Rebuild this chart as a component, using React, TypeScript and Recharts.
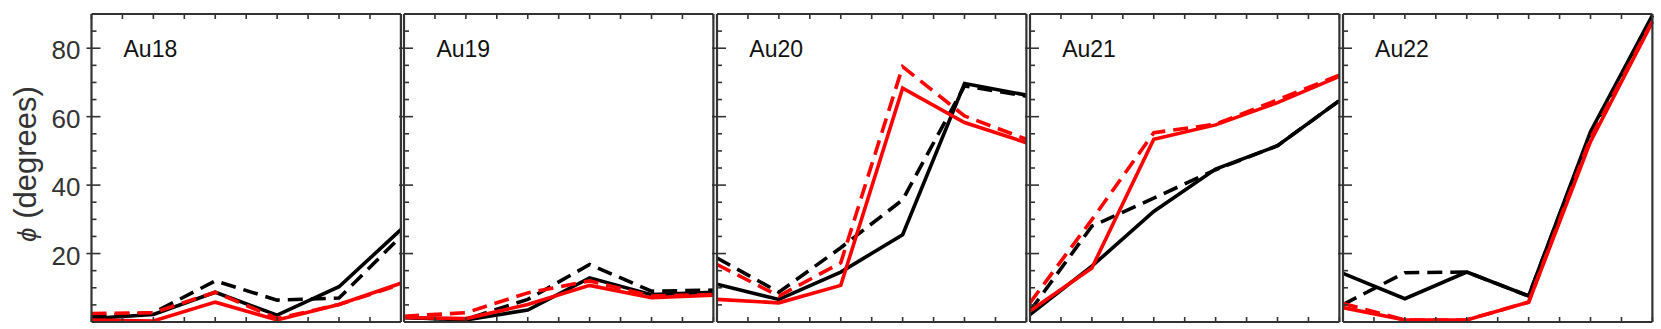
import { LineChart, Line, XAxis, YAxis } from "recharts";

const xs = [0, 2, 4, 6, 8, 10];
const xTicks = [0, 1, 2, 3, 4, 5, 6, 7, 8, 9, 10];
const yTicks = [5, 10, 15, 20, 25, 30, 35, 40, 45, 50, 55, 60, 65, 70, 75, 80, 85];

const au18Black = [1, 2.2, 8.7, 2, 10.3, 27];
const au18BlackDash = [1.7, 2.7, 12, 6.4, 7, 25];
const au18Red = [0.6, 0.3, 5.8, 0.6, 5.1, 11.3];
const au18RedDash = [2.5, 2.7, 8.7, 1, 5.1, 11];

const au19Black = [1.3, 0.6, 3.5, 12.9, 8, 8.7];
const au19BlackDash = [1.3, 0.8, 6.6, 16.8, 9, 9.3];
const au19Red = [1.3, 1, 5.1, 10.7, 7.1, 7.8];
const au19RedDash = [1.7, 2.7, 8.5, 12, 7.6, 8];

const au20Black = [11, 6.6, 14.6, 25.5, 69.7, 66.3];
const au20BlackDash = [18.7, 8.7, 21.7, 35.7, 69, 66];
const au20Red = [6.6, 5.6, 10.7, 68.3, 58.3, 52.4];
const au20RedDash = [16.8, 7.6, 17.3, 74.6, 60.2, 53.4];

const au21Black = [2.2, 16.3, 32.3, 44.7, 51.5, 64.7];
const au21BlackDash = [3.2, 28, 36.2, 44.5, 51.5, 64.7];
const au21Red = [3.2, 15.8, 53.4, 57.6, 64.1, 71.8];
const au21RedDash = [5.6, 29.9, 55.3, 57.8, 64.9, 72.1];

const au22Black = [14.2, 6.8, 14.6, 7.6, 55.6, 89.6];
const au22BlackDash = [5.1, 14.4, 14.6, 7.6, 55.1, 88.6];
const au22Red = [4.2, 0.6, 0.6, 5.8, 52.7, 87.7];
const au22RedDash = [5.4, 0.6, 0.6, 5.8, 53.7, 88];

const panels = [
  { name: "Au18", series: [au18Black, au18BlackDash, au18Red, au18RedDash] },
  { name: "Au19", series: [au19Black, au19BlackDash, au19Red, au19RedDash] },
  { name: "Au20", series: [au20Black, au20BlackDash, au20Red, au20RedDash] },
  { name: "Au21", series: [au21Black, au21BlackDash, au21Red, au21RedDash] },
  { name: "Au22", series: [au22Black, au22BlackDash, au22Red, au22RedDash] },
];

const FRAME = "#333";
const FONT = "'Liberation Sans', Arial, 'DejaVu Sans', sans-serif";
const PANEL_W = 309.4;
const PANEL_STEP = 312.9;
const FIRST_LEFT = 91.5;
const TOP = 14;
const BOTTOM = 7;
const H = 329;
const PAD = 12;
// axes refuse to draw at 0 size, so give them a sliver
const THIN = 0.001;
const LW = 3.6;
const DASH = "15 8";

const blank = () => "";

// y ticks: minor ones point inward, every 20 is longer and pokes outside the frame
function SideTick(props: any) {
  const { x, y, payload, side, labels } = props;
  const v = payload.value;
  const major = v % 20 === 0;
  const dir = side === "left" ? 1 : -1;
  const inner = major ? 9 : 5;
  const outer = major ? 5 : 0;
  return (
    <g>
      <line x1={x - dir * outer} x2={x + dir * inner} y1={y} y2={y} stroke={FRAME} strokeWidth={1.6} />
      {labels && major && (
        <text x={x - 11} y={y} dy={11} textAnchor="end" fontSize={26} fontFamily={FONT} fill={FRAME}>
          {v}
        </text>
      )}
    </g>
  );
}

function Panel({ index, series }: { index: number; series: number[][] }) {
  const data = xs.map((x, i) => ({
    x,
    bs: series[0][i],
    bd: series[1][i],
    rs: series[2][i],
    rd: series[3][i],
  }));
  const panelLeft = FIRST_LEFT + index * PANEL_STEP;
  const first = index === 0;
  const marginLeft = first ? panelLeft : PAD;
  const chartLeft = first ? 0 : panelLeft - PAD;
  const tickLine = { stroke: FRAME, strokeWidth: 1.6 };
  const frameLine = { stroke: FRAME, strokeWidth: 2.2 };

  return (
    <div style={{ position: "absolute", left: chartLeft, top: 0 }}>
      <LineChart
        width={marginLeft + PANEL_W + PAD}
        height={H}
        data={data}
        margin={{ top: TOP, bottom: BOTTOM, left: marginLeft, right: PAD }}
      >
        <XAxis xAxisId="b" dataKey="x" type="number" domain={[0, 10]} ticks={xTicks} interval={0}
          mirror height={THIN} tickSize={5} tickFormatter={blank} axisLine={frameLine} tickLine={tickLine} />
        <XAxis xAxisId="t" orientation="top" dataKey="x" type="number" domain={[0, 10]} ticks={xTicks} interval={0}
          mirror height={THIN} tickSize={5} tickFormatter={blank} axisLine={frameLine} tickLine={tickLine} />
        <YAxis yAxisId="l" type="number" domain={[0, 90]} ticks={yTicks} interval={0} mirror width={THIN}
          tickSize={0} tickMargin={0} axisLine={frameLine} tickLine={false}
          tick={<SideTick side="left" labels={first} />} />
        <YAxis yAxisId="r" orientation="right" type="number" domain={[0, 90]} ticks={yTicks} interval={0} mirror width={THIN}
          tickSize={0} tickMargin={0} axisLine={frameLine} tickLine={false}
          tick={<SideTick side="right" labels={false} />} />
        <Line xAxisId="b" yAxisId="l" dataKey="bs" stroke="#000" strokeWidth={LW} dot={false} isAnimationActive={false} />
        <Line xAxisId="b" yAxisId="l" dataKey="bd" stroke="#000" strokeWidth={LW} strokeDasharray={DASH} dot={false} isAnimationActive={false} />
        <Line xAxisId="b" yAxisId="l" dataKey="rs" stroke="#ff0000" strokeWidth={LW} dot={false} isAnimationActive={false} />
        <Line xAxisId="b" yAxisId="l" dataKey="rd" stroke="#ff0000" strokeWidth={LW} strokeDasharray={DASH} dot={false} isAnimationActive={false} />
      </LineChart>
    </div>
  );
}

export default function App() {
  return (
    <div style={{ position: "absolute", left: 0, top: 0, width: 1661, height: H, background: "#fff" }}>
      {panels.map((p, i) => (
        <Panel key={p.name} index={i} series={p.series} />
      ))}
      <svg width={1661} height={H} style={{ position: "absolute", left: 0, top: 0, pointerEvents: "none" }}>
        <text transform="translate(36,164) rotate(-90)" textAnchor="middle" fontFamily={FONT} fontSize={31} fill={FRAME}>
          <tspan fontStyle="italic" fontSize={26}>ϕ</tspan> (degrees)
        </text>
        {panels.map((p, i) => (
          <text key={p.name} x={FIRST_LEFT + i * PANEL_STEP + 32} y={57} fontFamily={FONT} fontSize={23} fill="#111">
            {p.name}
          </text>
        ))}
      </svg>
    </div>
  );
}
